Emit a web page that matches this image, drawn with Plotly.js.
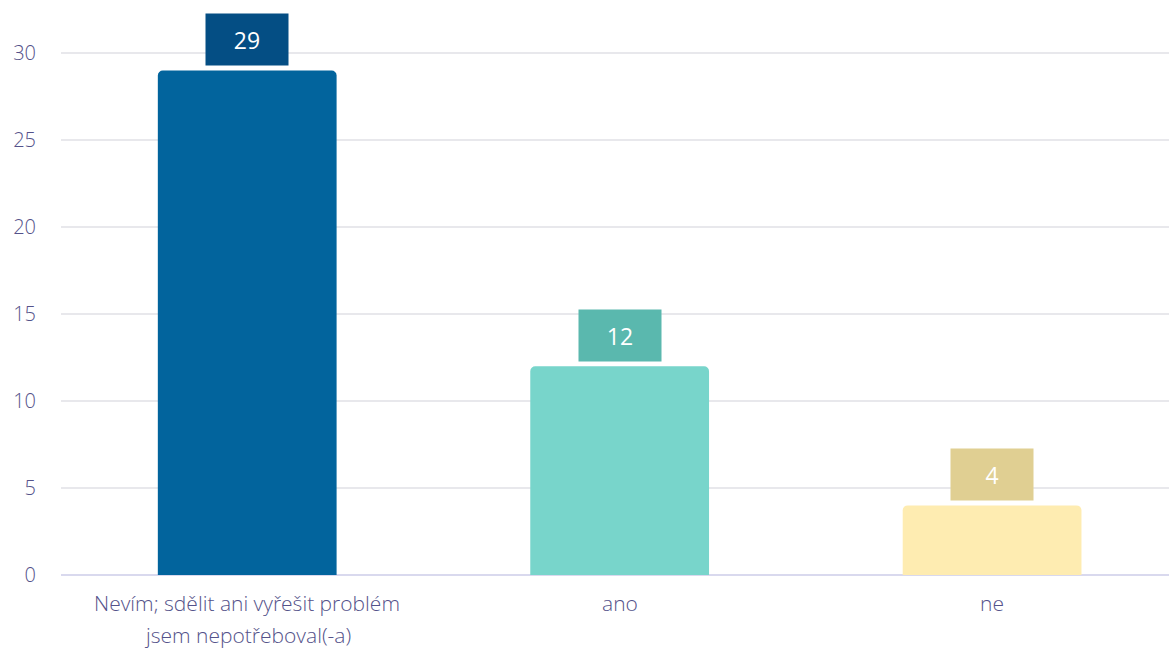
<!DOCTYPE html>
<html>
<head>
<meta charset="utf-8">
<script src="https://cdn.plot.ly/plotly-3.0.1.min.js"></script>
<style>html,body{margin:0;padding:0;background:#fff;}#chart{width:1169px;height:650px;}</style>
</head>
<body>
<div id="chart"></div>
<script>
const categories = ["Nevím; sdělit ani vyřešit problém<br>jsem nepotřeboval(-a)", "ano", "ne"];
const values = [29, 12, 4];
const barColors = ["#02649d", "#78d5cb", "#feecb1"];
const labelColors = ["#044e84", "#5ab8ae", "#e0cf92"];
const yTicks = [0, 5, 10, 15, 20, 25, 30];

const FONT = "'Open Sans', Lato, sans-serif";
const TEXT_COLOR = "#54528a";

const trace = {
  type: "bar",
  x: [0, 1, 2],
  y: values,
  width: 0.48,
  marker: { color: barColors, cornerradius: 5, line: { width: 0 } },
  hoverinfo: "none"
};

const valueLabels = values.map((v, i) => ({
  x: i, y: v, xref: "x", yref: "y",
  text: String(v),
  showarrow: false,
  yanchor: "bottom",
  yshift: 4,
  width: 82, height: 51,
  bgcolor: labelColors[i],
  borderpad: 0,
  font: { family: FONT, size: 23, color: "#ffffff" }
}));

const categoryLabels = [];
categories.forEach((c, i) => {
  c.split("<br>").forEach((line, k) => {
    categoryLabels.push({
      x: i, y: 0, xref: "x", yref: "y",
      text: line,
      showarrow: false,
      yanchor: "middle",
      yshift: -28 - 32 * k,
      borderpad: 0,
      font: { family: FONT, size: 21, weight: 300, color: TEXT_COLOR }
    });
  });
});

const layout = {
  width: 1169, height: 650,
  margin: { l: 61, r: 0, t: 0, b: 75 },
  paper_bgcolor: "#ffffff",
  plot_bgcolor: "#ffffff",
  showlegend: false,
  font: { family: FONT, size: 21, color: TEXT_COLOR },
  xaxis: {
    tickmode: "array",
    tickvals: [0, 1, 2],
    showticklabels: false,
    range: [-0.5, 2.475],
    showgrid: false,
    zeroline: false,
    showline: false,
    ticks: ""
  },
  yaxis: {
    range: [0, 33.05],
    tickmode: "array",
    tickvals: yTicks,
    showgrid: true,
    gridcolor: "#e8e8ec",
    gridwidth: 1.5,
    zeroline: true,
    zerolinecolor: "#d9d9ee",
    zerolinewidth: 2,
    ticks: "",
    ticklabelstandoff: 24,
    tickfont: { family: FONT, size: 20, weight: 300, color: TEXT_COLOR }
  },
  annotations: valueLabels.concat(categoryLabels)
};

Plotly.newPlot("chart", [trace], layout, { displayModeBar: false, staticPlot: true });
</script>
</body>
</html>
